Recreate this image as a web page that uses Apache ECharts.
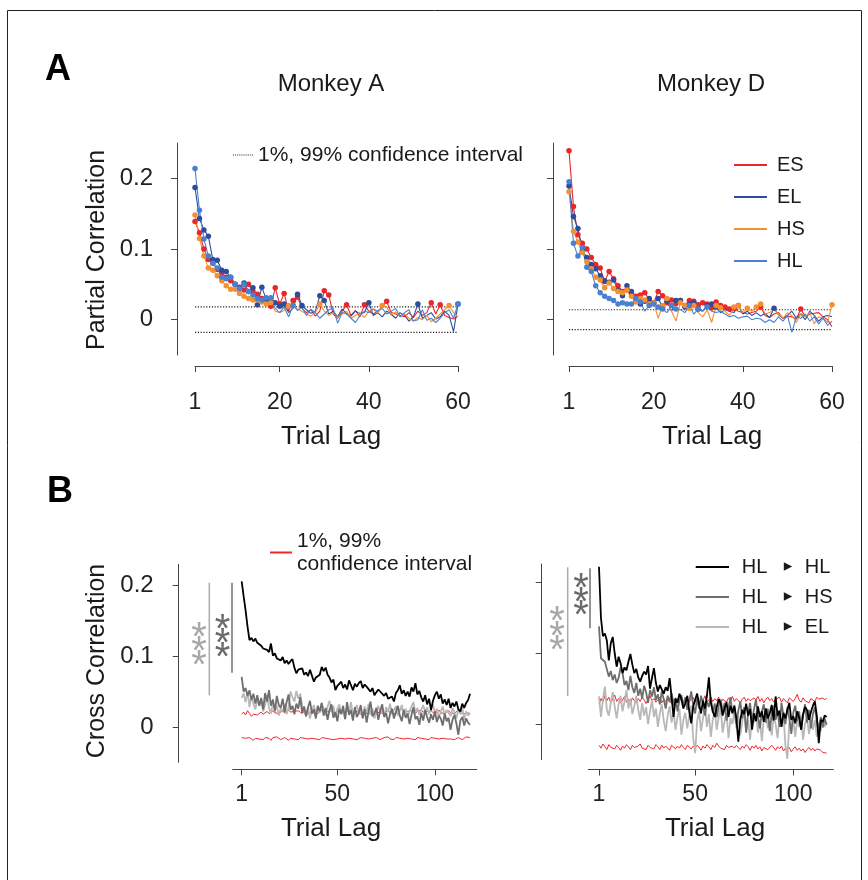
<!DOCTYPE html>
<html><head><meta charset="utf-8">
<script src="https://cdn.jsdelivr.net/npm/echarts@6/dist/echarts.min.js"></script>
<style>html,body{margin:0;padding:0;background:#fff}#c{width:868px;height:880px}</style>
</head><body><div id="c"></div>
<script>
const FONT = '"Liberation Sans", Arial, Helvetica, sans-serif';
const partialTicksX = [1, 20, 40, 60];
const crossTicksX = [1, 50, 100];
const yTicks = [0, 0.1, 0.2];

// Panel A – Monkey A, partial correlation by trial lag 1..60
const esA = [0.139,0.123,0.100,0.085,0.080,0.071,0.066,0.060,0.055,0.050,0.046,0.042,0.050,0.040,0.036,0.030,0.028,0.019,0.045,0.022,0.037,0.012,0.027,0.032,0.016,0.010,0.014,0.005,0.012,0.041,0.035,0.008,0.002,0.012,0.021,0.006,0.013,0.004,0.021,0.012,0.008,0.012,0.018,0.026,0.010,0.008,0.006,0.004,0.010,0.003,0.012,0.006,0.010,0.024,0.008,0.021,0.006,0.003,0.001,0.005];
const elA = [0.187,0.143,0.127,0.118,0.085,0.084,0.070,0.068,0.060,0.050,0.045,0.052,0.040,0.045,0.021,0.046,0.028,0.030,0.024,0.019,0.022,0.010,0.016,0.036,0.020,0.014,0.009,0.012,0.034,0.027,0.008,0.012,0.004,0.015,0.009,0.005,0.012,0.008,0.010,0.024,0.006,0.010,0.004,0.012,0.008,0.002,0.010,0.006,-0.002,0.004,0.022,0.002,0.006,0.010,0.001,0.004,0.012,0.006,-0.017,0.022];
const hsA = [0.148,0.115,0.090,0.073,0.070,0.062,0.055,0.048,0.043,0.043,0.037,0.033,0.030,0.028,0.028,0.025,0.022,0.024,0.012,0.010,0.013,0.020,0.020,0.015,0.012,0.008,0.005,0.010,0.022,0.012,0.006,0.010,0.003,0.008,0.012,0.002,0.006,0.010,0.003,0.012,0.015,0.009,0.020,0.018,0.006,0.011,0.004,0.008,0.002,-0.002,0.003,0.000,0.006,-0.003,0.002,0.008,0.014,0.020,0.010,0.004];
const hlA = [0.214,0.155,0.114,0.090,0.080,0.073,0.060,0.058,0.060,0.050,0.044,0.050,0.040,0.035,0.030,0.028,0.031,0.031,0.016,0.010,0.018,0.004,0.020,0.013,0.018,0.006,0.015,0.010,0.002,0.008,0.014,0.016,-0.005,0.010,0.008,0.002,-0.004,0.006,0.012,0.010,0.015,0.012,0.016,0.008,0.012,0.016,0.004,0.010,0.014,-0.002,0.000,0.014,-0.001,0.002,-0.004,0.002,0.010,0.014,0.002,0.022];
// Panel A – Monkey D
const esD = [0.239,0.160,0.120,0.108,0.100,0.088,0.078,0.073,0.054,0.068,0.058,0.048,0.040,0.042,0.037,0.033,0.035,0.038,0.028,0.024,0.040,0.034,0.024,0.028,0.023,0.027,0.020,0.027,0.026,0.021,0.024,0.022,0.017,0.025,0.020,0.018,0.015,0.016,0.012,0.010,0.008,0.010,0.012,0.018,0.006,0.003,0.008,0.010,0.002,0.005,0.004,0.001,0.015,0.004,0.008,0.009,0.010,0.004,0.000,-0.010];
const elD = [0.189,0.146,0.129,0.098,0.088,0.078,0.072,0.062,0.055,0.053,0.056,0.042,0.034,0.048,0.040,0.028,0.022,0.026,0.030,0.024,0.030,0.018,0.026,0.012,0.027,0.027,0.018,0.022,0.024,0.015,0.012,0.020,0.022,0.018,0.010,0.014,0.012,0.010,0.020,0.008,0.012,0.006,0.010,0.005,0.009,0.003,0.016,0.007,0.002,0.006,0.012,0.002,0.008,0.000,0.012,0.006,-0.002,0.004,0.006,0.004];
const hsD = [0.181,0.125,0.110,0.095,0.082,0.072,0.060,0.056,0.045,0.052,0.044,0.040,0.038,0.042,0.033,0.025,0.030,0.028,0.022,0.024,0.002,0.020,0.030,0.012,-0.002,0.024,0.020,0.016,0.020,0.010,0.004,0.014,-0.004,0.020,0.017,0.012,0.006,0.018,0.020,0.010,0.016,0.012,0.018,0.022,0.008,0.010,0.014,0.008,0.002,0.010,0.006,-0.004,0.009,0.004,0.010,-0.006,0.004,0.002,-0.004,0.021];
const hlD = [0.195,0.108,0.090,0.102,0.074,0.068,0.048,0.038,0.033,0.030,0.027,0.022,0.024,0.022,0.022,0.030,0.025,0.012,0.020,0.022,0.018,0.015,0.010,0.020,0.015,0.014,0.010,0.020,0.008,0.015,0.012,0.018,0.012,0.010,0.012,0.008,0.004,0.006,0.002,0.004,0.005,0.000,0.002,0.001,-0.004,0.000,-0.004,0.004,-0.002,0.006,-0.018,0.004,0.002,0.008,-0.002,0.004,-0.006,0.002,-0.008,-0.002];
const ciPartialA = [0.018, -0.018];
const ciPartialD = [0.014, -0.014];
const partialLagRange = [1, 60];

// Panel B – Monkey A, cross correlation by trial lag 1..118
const hlhlA = [0.206,0.185,0.165,0.142,0.123,0.126,0.121,0.125,0.119,0.117,0.115,0.111,0.113,0.109,0.106,0.118,0.101,0.104,0.097,0.098,0.094,0.099,0.090,0.094,0.089,0.093,0.096,0.084,0.076,0.081,0.079,0.083,0.074,0.077,0.072,0.081,0.079,0.064,0.070,0.068,0.074,0.085,0.079,0.084,0.074,0.070,0.063,0.067,0.052,0.058,0.061,0.064,0.055,0.060,0.053,0.066,0.059,0.052,0.061,0.057,0.062,0.065,0.055,0.060,0.057,0.059,0.050,0.055,0.045,0.049,0.053,0.052,0.047,0.044,0.048,0.040,0.038,0.043,0.036,0.048,0.052,0.059,0.047,0.052,0.044,0.050,0.043,0.056,0.050,0.062,0.046,0.051,0.042,0.036,0.045,0.032,0.040,0.024,0.037,0.045,0.050,0.040,0.046,0.033,0.039,0.031,0.040,0.027,0.034,0.029,0.036,0.025,0.022,0.033,0.027,0.034,0.038,0.047];
const hlhsA = [0.071,0.050,0.055,0.044,0.052,0.038,0.047,0.033,0.045,0.030,0.041,0.025,0.048,0.036,0.052,0.030,0.039,0.022,0.044,0.031,0.027,0.040,0.021,0.035,0.046,0.024,0.030,0.018,0.033,0.026,0.042,0.020,0.029,0.015,0.028,0.037,0.019,0.025,0.012,0.030,0.022,0.034,0.016,0.027,0.010,0.024,0.032,0.013,0.021,0.008,0.026,0.018,0.030,0.011,0.035,0.017,0.024,0.009,0.028,0.014,0.020,0.031,0.012,0.025,0.006,0.022,0.036,0.015,0.019,0.027,0.010,0.023,0.032,0.014,0.020,0.005,0.018,0.026,0.012,0.021,0.030,0.016,0.008,0.024,0.013,0.019,0.004,0.017,0.028,0.011,0.015,0.003,0.020,0.009,0.024,0.014,0.006,0.018,0.010,0.022,0.007,0.016,0.012,0.002,0.019,0.008,0.013,-0.004,0.010,0.017,0.005,-0.011,0.009,0.014,0.002,0.012,0.006,0.003];
const hlelA = [0.041,0.048,0.035,0.050,0.028,0.044,0.033,0.025,0.040,0.030,0.038,0.022,0.031,0.045,0.027,0.019,0.035,0.024,0.030,0.016,0.026,0.021,0.033,0.018,0.028,0.050,0.042,0.036,0.051,0.040,0.047,0.030,0.022,0.015,0.028,0.012,0.024,0.031,0.018,0.027,0.020,0.034,0.025,0.016,0.029,0.037,0.021,0.030,0.014,0.026,0.032,0.019,0.024,0.011,0.028,0.020,0.035,0.016,0.025,0.031,0.018,0.024,0.014,0.029,0.020,0.033,0.017,0.026,0.012,0.022,0.030,0.019,0.025,0.015,0.028,0.021,0.033,0.018,0.024,0.029,0.016,0.023,0.031,0.019,0.026,0.014,0.022,0.029,0.035,0.020,0.027,0.017,0.024,0.031,0.021,0.028,0.018,0.025,0.032,0.019,0.026,0.013,0.022,0.029,0.017,0.024,0.020,0.015,0.027,0.021,0.012,0.025,0.018,0.028,0.010,0.022,0.016,0.020];
const ciUpA = [0.018,0.021,0.017,0.023,0.019,0.015,0.018,0.020,0.017,0.019,0.021,0.018,0.020,0.022,0.019,0.021,0.023,0.020,0.022,0.019,0.021,0.023,0.020,0.022,0.024,0.021,0.019,0.022,0.020,0.023,0.021,0.019,0.022,0.020,0.018,0.021,0.023,0.020,0.022,0.019,0.021,0.024,0.020,0.018,0.022,0.020,0.023,0.021,0.019,0.022,0.020,0.022,0.019,0.021,0.023,0.020,0.018,0.021,0.019,0.022,0.020,0.018,0.021,0.023,0.019,0.021,0.020,0.022,0.018,0.021,0.023,0.020,0.022,0.019,0.021,0.024,0.020,0.022,0.019,0.021,0.020,0.023,0.026,0.021,0.019,0.022,0.020,0.023,0.021,0.019,0.022,0.020,0.024,0.021,0.019,0.022,0.020,0.023,0.021,0.018,0.021,0.024,0.020,0.022,0.019,0.021,0.023,0.020,0.022,0.019,0.021,0.024,0.020,0.022,0.019,0.021,0.020,0.018];
const ciLoA = [-0.015,-0.017,-0.016,-0.018,-0.015,-0.017,-0.019,-0.016,-0.014,-0.017,-0.016,-0.018,-0.015,-0.017,-0.016,-0.019,-0.015,-0.017,-0.014,-0.016,-0.018,-0.016,-0.015,-0.017,-0.019,-0.016,-0.014,-0.017,-0.016,-0.018,-0.015,-0.017,-0.016,-0.014,-0.017,-0.019,-0.016,-0.015,-0.017,-0.016,-0.018,-0.015,-0.017,-0.016,-0.014,-0.017,-0.015,-0.018,-0.016,-0.017,-0.015,-0.016,-0.018,-0.017,-0.015,-0.016,-0.014,-0.017,-0.016,-0.018,-0.016,-0.015,-0.017,-0.016,-0.018,-0.017,-0.015,-0.016,-0.017,-0.015,-0.016,-0.018,-0.017,-0.015,-0.016,-0.014,-0.017,-0.016,-0.018,-0.015,-0.017,-0.016,-0.015,-0.017,-0.018,-0.016,-0.015,-0.017,-0.016,-0.018,-0.015,-0.017,-0.016,-0.014,-0.017,-0.016,-0.018,-0.015,-0.017,-0.016,-0.015,-0.017,-0.019,-0.016,-0.018,-0.017,-0.015,-0.017,-0.016,-0.018,-0.017,-0.015,-0.016,-0.018,-0.016,-0.014,-0.016,-0.015];
// Panel B – Monkey D, trial lag 1..117
const hlhlD = [0.222,0.150,0.124,0.128,0.118,0.090,0.114,0.123,0.100,0.081,0.095,0.086,0.072,0.080,0.076,0.088,0.099,0.084,0.072,0.078,0.066,0.060,0.068,0.074,0.070,0.082,0.050,0.065,0.079,0.058,0.046,0.055,0.049,0.043,0.052,0.047,0.065,0.038,0.010,0.036,0.030,0.043,0.035,0.022,0.029,0.040,0.018,0.001,0.025,0.034,0.043,0.028,0.015,0.033,0.022,0.040,0.066,0.030,0.018,0.010,0.024,0.035,0.029,0.012,0.022,0.031,0.010,0.026,0.016,0.025,0.008,-0.025,0.006,0.020,0.014,0.029,0.012,0.021,-0.008,0.015,0.004,0.025,0.010,0.018,0.003,0.022,0.008,0.015,0.027,0.005,0.039,0.012,0.019,-0.004,0.016,0.008,0.020,0.030,0.006,0.011,0.001,0.018,0.009,-0.008,0.014,0.024,0.020,0.006,0.017,0.026,0.032,0.012,-0.027,0.006,0.003,0.012,0.010];
const hlhsD = [0.138,0.093,0.092,0.088,0.086,0.067,0.075,0.062,0.070,0.058,0.065,0.080,0.072,0.055,0.061,0.048,0.068,0.052,0.044,0.058,0.040,0.050,0.036,0.054,0.045,0.030,0.048,0.039,0.052,0.034,0.042,0.028,0.046,0.035,0.022,0.040,0.031,0.044,0.026,0.037,0.018,0.034,0.041,0.025,0.038,0.020,0.032,0.046,0.027,0.015,0.036,0.022,0.040,0.028,0.012,0.033,0.024,0.038,0.016,0.029,0.010,0.025,0.035,0.018,0.030,0.005,0.022,0.038,0.014,0.027,0.000,0.019,0.032,0.008,0.024,-0.012,0.016,0.030,0.004,0.021,0.035,0.010,-0.006,0.018,0.028,0.002,0.022,-0.010,0.014,0.026,0.006,0.019,-0.004,0.030,0.012,0.000,0.024,0.008,-0.014,0.016,0.026,0.004,0.018,-0.008,0.012,0.028,0.002,0.020,-0.006,0.014,0.024,0.004,-0.012,0.010,-0.005,0.008,-0.001];
const hlelD = [0.039,0.010,0.035,0.053,0.020,0.012,0.030,0.045,0.025,0.008,0.028,0.040,0.018,0.032,0.048,0.022,0.036,0.014,0.026,0.040,0.020,0.006,0.030,0.012,0.024,0.000,0.018,0.034,0.010,0.022,-0.004,0.015,0.028,0.005,-0.010,0.012,0.025,0.002,0.018,-0.008,0.010,0.022,-0.015,0.006,0.016,-0.006,0.012,0.026,-0.020,-0.041,0.004,0.018,-0.010,0.008,0.028,-0.004,0.014,-0.018,0.006,0.020,-0.008,0.010,0.024,-0.012,0.004,0.016,-0.020,0.008,0.000,0.018,-0.006,0.012,-0.016,0.004,0.020,-0.010,0.006,-0.022,0.010,0.002,0.016,-0.012,0.006,-0.024,0.008,0.018,-0.006,0.004,-0.016,0.012,0.000,-0.020,0.010,-0.004,0.014,-0.030,-0.049,0.002,-0.010,0.008,-0.018,0.006,-0.004,0.012,-0.022,0.000,0.010,-0.014,0.004,-0.008,0.006,-0.018,0.002,-0.010,0.008,-0.004,0.002];
const ciUpD = [0.028,0.036,0.031,0.040,0.033,0.038,0.030,0.035,0.041,0.032,0.036,0.030,0.034,0.039,0.031,0.035,0.029,0.037,0.033,0.030,0.036,0.032,0.038,0.034,0.029,0.035,0.040,0.033,0.036,0.031,0.034,0.038,0.030,0.035,0.032,0.037,0.033,0.029,0.035,0.031,0.036,0.033,0.039,0.030,0.034,0.037,0.032,0.035,0.038,0.031,0.035,0.030,0.036,0.033,0.040,0.031,0.034,0.037,0.032,0.036,0.033,0.038,0.030,0.035,0.034,0.031,0.037,0.033,0.039,0.032,0.036,0.034,0.030,0.035,0.038,0.032,0.036,0.033,0.031,0.037,0.034,0.039,0.032,0.036,0.030,0.035,0.038,0.033,0.036,0.031,0.035,0.033,0.038,0.031,0.036,0.034,0.030,0.037,0.035,0.032,0.036,0.042,0.034,0.031,0.037,0.033,0.035,0.030,0.036,0.034,0.032,0.038,0.035,0.033,0.037,0.034,0.037];
const ciLoD = [-0.030,-0.034,-0.028,-0.032,-0.036,-0.029,-0.033,-0.031,-0.035,-0.030,-0.033,-0.037,-0.031,-0.034,-0.029,-0.032,-0.036,-0.030,-0.033,-0.035,-0.031,-0.028,-0.034,-0.032,-0.036,-0.030,-0.033,-0.031,-0.035,-0.029,-0.032,-0.036,-0.030,-0.034,-0.031,-0.033,-0.037,-0.030,-0.032,-0.035,-0.031,-0.034,-0.029,-0.033,-0.036,-0.030,-0.032,-0.035,-0.031,-0.034,-0.030,-0.033,-0.037,-0.031,-0.034,-0.029,-0.032,-0.036,-0.030,-0.033,-0.027,-0.031,-0.034,-0.032,-0.036,-0.030,-0.033,-0.035,-0.031,-0.034,-0.030,-0.033,-0.036,-0.031,-0.034,-0.029,-0.032,-0.037,-0.031,-0.034,-0.030,-0.035,-0.032,-0.038,-0.033,-0.031,-0.036,-0.034,-0.030,-0.033,-0.037,-0.032,-0.035,-0.031,-0.038,-0.034,-0.036,-0.033,-0.039,-0.035,-0.032,-0.037,-0.034,-0.038,-0.035,-0.040,-0.036,-0.033,-0.037,-0.034,-0.038,-0.035,-0.033,-0.037,-0.040,-0.038,-0.041];

const COL = {ES:'#e8262b', EL:'#2c4c9c', HS:'#f39032', HL:'#4a80cf', k:'#000000', dg:'#6e6e6e', lg:'#b8b8b8', red:'#f0262c'};
const toXY = arr => arr.map((v, i) => [i + 1, v]);
const DOTTED_ICON = 'path://M0 0h2v2h-2z M4 0h2v2h-2z M8 0h2v2h-2z M12 0h2v2h-2z M16 0h2v2h-2z M20 0h2v2h-2z M24 0h2v2h-2z M28 0h2v2h-2z M32 0h2v2h-2z M36 0h2v2h-2z';

function partial(name, arr, color, ax, thr) {
  return {name, type:'line', xAxisIndex:ax, yAxisIndex:ax, data:toXY(arr),
    symbol:'circle', showAllSymbol:true, symbolSize: v => (v[1] > thr ? 5.5 : 0),
    lineStyle:{color, width:1.1}, itemStyle:{color}, emphasis:{disabled:true}, z:3};
}
function ciDotted(v, ax) {
  return {name:'1%, 99% confidence interval', type:'line', xAxisIndex:ax, yAxisIndex:ax,
    data:[[partialLagRange[0], v],[partialLagRange[1], v]], symbol:'none',
    lineStyle:{color:'#222', width:1.2, type:[1.2,1.6]}, itemStyle:{color:'#333'}, emphasis:{disabled:true}, z:2};
}
function cross(name, arr, color, ax, w, z) {
  return {name, type:'line', xAxisIndex:ax, yAxisIndex:ax, data:toXY(arr), symbol:'none',
    lineStyle:{color, width:w}, itemStyle:{color}, emphasis:{disabled:true}, z};
}

const axLine = {show:true, onZero:false, lineStyle:{color:'#444', width:1}};
function xAx(gi, min, max, ticks, offset, margin) {
  return {gridIndex:gi, type:'value', min, max, offset, axisLine:axLine,
    axisTick:{show:true, length:6, customValues:ticks, lineStyle:{color:'#444'}},
    axisLabel:{customValues:ticks, fontSize:23, color:'#222', fontFamily:FONT, margin},
    splitLine:{show:false}};
}
function yAx(gi, min, max, offset, showLabel, margin) {
  return {gridIndex:gi, type:'value', min, max, offset, axisLine:axLine,
    axisTick:{show:true, length:6, customValues:yTicks, lineStyle:{color:'#444'}},
    axisLabel:{show:showLabel, customValues:yTicks, fontSize:24, color:'#222', fontFamily:FONT, margin,
      formatter: v => (Math.abs(v) < 1e-9 ? '0' : v.toFixed(1))},
    splitLine:{show:false}};
}

const txt = (t, x, y, size, opts = {}) => ({type:'text', x, y, rotation: opts.rot || 0, silent:true,
  style:{text:t, fill: opts.color || '#1a1a1a', font:(opts.bold ? 'bold ' : '') + size + 'px ' + FONT,
    textAlign: opts.align || 'center', textVerticalAlign:'middle', align: opts.align || 'center', verticalAlign:'middle'}});
const vline = (x, y1, y2, color) => ({type:'line', silent:true, shape:{x1:x, y1, x2:x, y2}, style:{stroke:color, lineWidth:1.5}});
const star = (x, y, color) => txt('*', x, y + 10, 40, {color});

const graphic = [
  {type:'rect', silent:true, shape:{x:7.5, y:10.5, width:854, height:880}, style:{fill:'none', stroke:'#222', lineWidth:1}},
  txt('A', 45, 70, 36, {bold:true, align:'left', color:'#000'}),
  txt('B', 47, 492, 36, {bold:true, align:'left', color:'#000'}),
  txt('Monkey A', 331, 84, 24),
  txt('Monkey D', 711, 84, 24),
  txt('Partial Correlation', 97, 250, 25, {rot:Math.PI/2}),
  txt('Cross Correlation', 97, 661, 25, {rot:Math.PI/2}),
  txt('Trial Lag', 331, 437, 26),
  txt('Trial Lag', 712, 437, 26),
  txt('Trial Lag', 331, 829, 26),
  txt('Trial Lag', 715, 829, 26),
  vline(209.3, 582.7, 695.3, '#aaaaaa'),
  vline(232, 582.7, 672.7, '#707070'),
  vline(567.7, 567.3, 696, '#aaaaaa'),
  vline(590, 568.3, 628.3, '#707070'),
  star(199, 629, '#a8a8a8'), star(199, 643, '#a8a8a8'), star(199, 657, '#a8a8a8'),
  star(222.5, 621, '#6a6a6a'), star(222.5, 635, '#6a6a6a'), star(222.5, 649, '#6a6a6a'),
  star(557, 613, '#a8a8a8'), star(557, 627.5, '#a8a8a8'), star(557, 642, '#a8a8a8'),
  star(581, 580, '#6a6a6a'), star(581, 593.5, '#6a6a6a'), star(581, 607, '#6a6a6a')
];

const option = {
  animation:false,
  backgroundColor:'#ffffff',
  textStyle:{fontFamily:FONT},
  grid:[
    {left:195, top:143, width:263, height:212, containLabel:false, outerBoundsMode:'none'},
    {left:569, top:143, width:263, height:212, containLabel:false, outerBoundsMode:'none'},
    {left:232.7, top:564.4, width:244, height:197.9, containLabel:false, outerBoundsMode:'none'},
    {left:588.3, top:564, width:245, height:195.5, containLabel:false, outerBoundsMode:'none'}
  ],
  xAxis:[
    xAx(0, 1, 60, partialTicksX, 11, 25),
    xAx(1, 1, 60, partialTicksX, 11, 25),
    xAx(2, -3.6, 121.4, crossTicksX, 7, 14),
    xAx(3, -4.45, 120.4, crossTicksX, 10, 14)
  ],
  yAxis:[
    yAx(0, -0.05, 0.25, 18, true, 24),
    yAx(1, -0.05, 0.25, 16, false, 24),
    yAx(2, -0.05, 0.23, 54, true, 25),
    yAx(3, -0.05, 0.226, 46.6, false, 25)
  ],
  legend:[
    {data:['1%, 99% confidence interval'], left:233, top:144.5, padding:0, itemWidth:20, itemHeight:1.3, icon:DOTTED_ICON,
      selectedMode:false, textStyle:{fontSize:21, color:'#1a1a1a', fontFamily:FONT}},
    {data:['ES','EL','HS','HL'], orient:'vertical', left:734, top:155, padding:0, itemWidth:33, itemHeight:2, itemGap:12,
      icon:'rect', selectedMode:false, textStyle:{fontSize:20, color:'#1a1a1a', fontFamily:FONT, padding:[0,0,0,5]}},
    {data:['ci99'], left:270, top:529.5, padding:0, itemWidth:22, itemHeight:2, icon:'rect', selectedMode:false,
      formatter:() => '1%, 99%\nconfidence interval',
      textStyle:{fontSize:21, lineHeight:23, color:'#1a1a1a', fontFamily:FONT}},
    {data:['HL ▸ HL','HL ▸ HS','HL ▸ EL'], orient:'vertical', left:695.7, top:557, padding:0, itemWidth:33.3, itemHeight:2, itemGap:10,
      icon:'rect', selectedMode:false,
      formatter: n => { const p = n.split(' ▸ '); return '{a|' + p[0] + '}{b|▸}{c|' + p[1] + '}'; },
      textStyle:{fontSize:20, color:'#1a1a1a', fontFamily:FONT, padding:[0,0,0,7.7],
        rich:{a:{fontSize:20, width:42, fontFamily:FONT, color:'#1a1a1a'},
              b:{fontSize:17, width:21, fontFamily:'"DejaVu Sans", sans-serif', color:'#1a1a1a'},
              c:{fontSize:20, fontFamily:FONT, color:'#1a1a1a'}}}}
  ],
  graphic,
  series:[
    ciDotted(ciPartialA[0], 0), ciDotted(ciPartialA[1], 0),
    partial('ES', esA, COL.ES, 0, ciPartialA[0]),
    partial('EL', elA, COL.EL, 0, ciPartialA[0]),
    partial('HS', hsA, COL.HS, 0, ciPartialA[0]),
    partial('HL', hlA, COL.HL, 0, ciPartialA[0]),
    ciDotted(ciPartialD[0], 1), ciDotted(ciPartialD[1], 1),
    partial('ES', esD, COL.ES, 1, ciPartialD[0]),
    partial('EL', elD, COL.EL, 1, ciPartialD[0]),
    partial('HS', hsD, COL.HS, 1, ciPartialD[0]),
    partial('HL', hlD, COL.HL, 1, ciPartialD[0]),
    cross('ci99', ciUpA, COL.red, 2, 1, 2), cross('ci99', ciLoA, COL.red, 2, 1, 2),
    cross('HL ▸ EL', hlelA, COL.lg, 2, 1.8, 3),
    cross('HL ▸ HS', hlhsA, COL.dg, 2, 1.8, 4),
    cross('HL ▸ HL', hlhlA, COL.k, 2, 1.8, 5),
    cross('ci99', ciUpD, COL.red, 3, 1, 2), cross('ci99', ciLoD, COL.red, 3, 1, 2),
    cross('HL ▸ EL', hlelD, COL.lg, 3, 1.8, 3),
    cross('HL ▸ HS', hlhsD, COL.dg, 3, 1.8, 4),
    cross('HL ▸ HL', hlhlD, COL.k, 3, 1.8, 5)
  ]
};
const chart = echarts.init(document.getElementById('c'), null, {renderer:'canvas'});
chart.setOption(option);
</script>
</body></html>
